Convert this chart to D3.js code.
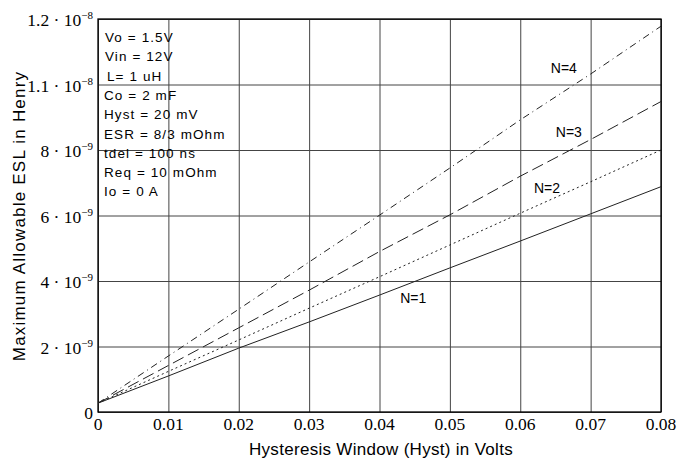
<!DOCTYPE html>
<html lang="en">
<head>
<meta charset="UTF-8" />
<title>Maximum Allowable ESL</title>
<script src="https://d3js.org/d3.v7.min.js"></script>
<style>
  body { margin: 0; background: #fff; }
  svg { display: block; }
</style>
</head>
<body>
<svg width="679" height="459"></svg>
<script>
// hysteresis window (V)
const hyst = [0, 0.01, 0.02, 0.03, 0.04, 0.05, 0.06, 0.07, 0.08];
// max ESL in nH
const eslN1 = [0.27, 1.10, 1.95, 2.75, 3.57, 4.40, 5.22, 6.05, 6.88];
const eslN2 = [0.27, 1.24, 2.20, 3.17, 4.13, 5.10, 6.07, 7.03, 8.00];
const eslN3 = [0.27, 1.42, 2.57, 3.72, 4.90, 6.02, 7.20, 8.32, 9.48];
const eslN4 = [0.27, 1.71, 3.14, 4.58, 6.01, 7.45, 8.92, 10.32, 11.78];
const seriesNames = ['N=1', 'N=2', 'N=3', 'N=4'];
// where each curve name sits (hyst V, nH)
const nameX = [0.0448, 0.0638, 0.0669, 0.0662];
const nameY = [3.33, 6.69, 8.40, 10.35];

const xTicks = [0, 0.01, 0.02, 0.03, 0.04, 0.05, 0.06, 0.07, 0.08];
const xTickLabels = ['0', '0.01', '0.02', '0.03', '0.04', '0.05', '0.06', '0.07', '0.08'];
const yTicks = [0, 2, 4, 6, 8, 10, 12];
const yTickMant = ['0', '2 · 10', '4 · 10', '6 · 10', '8 · 10', '1.1 · 10', '1.2 · 10'];
const yTickExp = ['', '−9', '−9', '−9', '−9', '−8', '−8'];

const notes = ['Vo = 1.5V', 'Vin = 12V', 'L= 1 uH', 'Co = 2 mF', 'Hyst = 20 mV',
  'ESR = 8/3 mOhm', 'tdel = 100 ns', 'Req = 10 mOhm', 'Io = 0 A'];

const svg = d3.select('svg');
const mLeft = 98, mRight = 661, mTop = 19, mBottom = 412;

const x = d3.scaleLinear().domain([0, 0.08]).range([mLeft, mRight]);
const y = d3.scaleLinear().domain([0, 12]).range([mBottom, mTop]);

// grid
svg.append('g')
  .attr('transform', `translate(0,${mBottom})`)
  .call(d3.axisBottom(x).tickValues(xTicks).tickSize(-(mBottom - mTop)).tickFormat(''))
  .call(g => g.select('.domain').remove())
  .call(g => g.selectAll('line').attr('stroke', '#444').attr('stroke-width', 1));

svg.append('g')
  .attr('transform', `translate(${mLeft},0)`)
  .call(d3.axisLeft(y).tickValues(yTicks).tickSize(-(mRight - mLeft)).tickFormat(''))
  .call(g => g.select('.domain').remove())
  .call(g => g.selectAll('line').attr('stroke', '#444').attr('stroke-width', 1));

// frame
svg.append('rect')
  .attr('x', mLeft).attr('y', mTop)
  .attr('width', mRight - mLeft).attr('height', mBottom - mTop)
  .attr('fill', 'none').attr('stroke', '#000').attr('stroke-width', 1.3);

// x tick labels
svg.append('g').selectAll('text').data(xTicks).join('text')
  .attr('x', d => x(d))
  .attr('y', 430)
  .attr('text-anchor', 'middle')
  .attr('font-family', 'Liberation Serif, Times New Roman, serif')
  .attr('font-size', 17.5)
  .text((d, i) => xTickLabels[i]);

// y tick labels with exponents
const yl = svg.append('g').selectAll('text').data(yTicks).join('text')
  .attr('x', 93)
  .attr('y', d => y(d) + 7)
  .attr('text-anchor', 'end')
  .attr('font-family', 'Liberation Serif, Times New Roman, serif')
  .attr('font-size', 17.5);
yl.append('tspan').text((d, i) => yTickMant[i]);
yl.append('tspan')
  .attr('dy', -7)
  .attr('font-size', 11)
  .text((d, i) => yTickExp[i]);

// axis titles
svg.append('text')
  .attr('x', 381)
  .attr('y', 455)
  .attr('text-anchor', 'middle')
  .attr('font-family', 'Liberation Sans, Arial, sans-serif')
  .attr('font-size', 17)
  .attr('letter-spacing', 0.3)
  .text('Hysteresis Window (Hyst) in Volts');

svg.append('text')
  .attr('transform', `translate(25,216) rotate(-90)`)
  .attr('text-anchor', 'middle')
  .attr('font-family', 'Liberation Sans, Arial, sans-serif')
  .attr('font-size', 17)
  .attr('letter-spacing', 1.2)
  .text('Maximum Allowable ESL in Henry');

// curves
const series = [eslN1, eslN2, eslN3, eslN4];
const dashes = ['none', '2,3', '12,5', '7,4,1,4'];
const line = d3.line().x((d, i) => x(hyst[i])).y(d => y(d));

svg.append('g').selectAll('path').data(series).join('path')
  .attr('d', line)
  .attr('fill', 'none')
  .attr('stroke', '#222')
  .attr('stroke-width', 1)
  .attr('stroke-dasharray', (d, i) => dashes[i]);

// curve names
svg.append('g').selectAll('text').data(seriesNames).join('text')
  .attr('x', (d, i) => x(nameX[i]))
  .attr('y', (d, i) => y(nameY[i]))
  .attr('font-family', 'Liberation Sans, Arial, sans-serif')
  .attr('font-size', 14)
  .attr('text-anchor', 'middle')
  .text(d => d);

// parameter notes
svg.append('g').selectAll('text').data(notes).join('text')
  .attr('x', (d, i) => i === 2 ? 107 : (i < 2 ? 105 : 104))
  .attr('y', (d, i) => 42 + i * 19.3)
  .attr('font-family', 'Liberation Sans, Arial, sans-serif')
  .attr('font-size', 13.5)
  .attr('letter-spacing', 1.1)
  .text(d => d);
</script>
</body>
</html>
